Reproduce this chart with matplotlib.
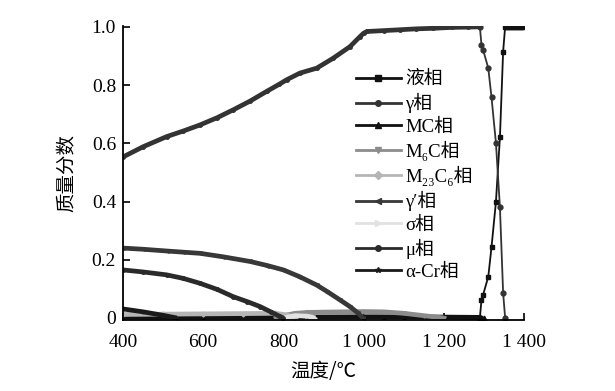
import matplotlib
matplotlib.use('Agg')
from matplotlib import pyplot as plt

plt.rcParams['font.family'] = ['Liberation Serif', 'Noto Sans CJK SC', 'DejaVu Serif']

# temperature (deg C) and mass fraction for each phase
t_liq = [1290, 1294, 1298, 1311, 1319, 1330, 1340, 1348, 1353,
         1358, 1363, 1368, 1373, 1378, 1383, 1388, 1393, 1398]
v_liq = [0.0, 0.062, 0.079, 0.142, 0.243, 0.398, 0.62, 0.915, 1.0,
         1.0, 1.0, 1.0, 1.0, 1.0, 1.0, 1.0, 1.0, 1.0]

t_gam = [400, 450, 509, 550, 592, 635, 675, 717, 758, 790, 808, 841, 883,
         924, 966, 990, 1000, 1008, 1050, 1091, 1130, 1174, 1220, 1260,
         1290, 1294, 1298, 1311, 1319, 1330, 1340, 1348, 1353]
v_gam = [0.553, 0.588, 0.623, 0.642, 0.663, 0.688, 0.715, 0.745, 0.778,
         0.803, 0.818, 0.841, 0.858, 0.892, 0.932, 0.965, 0.978, 0.984,
         0.987, 0.99, 0.993, 0.995, 0.998, 0.999, 1.0, 0.938, 0.921,
         0.858, 0.758, 0.602, 0.381, 0.086, 0.0]

t_mc = [400, 600, 800, 1000, 1050, 1100, 1200, 1290, 1300]
v_mc = [0.003, 0.003, 0.003, 0.004, 0.004, 0.004, 0.003, 0.002, 0.0]

t_m6c = [780, 800, 830, 860, 900, 950, 1000, 1050, 1100, 1150, 1200]
v_m6c = [0.0, 0.008, 0.016, 0.019, 0.020, 0.021, 0.022, 0.021, 0.016, 0.008, 0.0]

t_m23 = [400, 500, 600, 700, 780, 810, 830]
v_m23 = [0.012, 0.013, 0.014, 0.015, 0.016, 0.010, 0.0]

t_gp = [400, 450, 509, 550, 592, 650, 717, 760, 800, 840, 883, 910, 941,
        966, 985, 998]
v_gp = [0.240, 0.236, 0.230, 0.226, 0.222, 0.210, 0.194, 0.180, 0.165,
        0.142, 0.113, 0.090, 0.062, 0.039, 0.018, 0.0]

t_sig = [800, 830, 860, 880]
v_sig = [0.0, 0.008, 0.006, 0.0]

t_mu = [400, 450, 509, 550, 592, 635, 675, 710, 742, 770, 790, 800]
v_mu = [0.165, 0.158, 0.148, 0.136, 0.119, 0.098, 0.073, 0.056, 0.039,
        0.020, 0.006, 0.0]

t_acr = [400, 450, 500, 534]
v_acr = [0.031, 0.021, 0.009, 0.0]

labels = ['液相', 'γ相', 'MC相', 'M₆C相', 'M₂₃C₆相', 'γ′相', 'σ相', 'μ相', 'α-Cr相']

fig = plt.figure(figsize=(6.15, 3.91), dpi=100)
ax = fig.add_axes([0.2, 0.1816, 0.652, 0.752])

series = [
    (t_liq, v_liq, 's', '#111111'),
    (t_gam, v_gam, 'o', '#333333'),
    (t_mc, v_mc, '^', '#111111'),
    (t_m6c, v_m6c, 'v', '#8c8c8c'),
    (t_m23, v_m23, 'D', '#b5b5b5'),
    (t_gp, v_gp, '<', '#383838'),
    (t_sig, v_sig, '>', '#e2e2e2'),
    (t_mu, v_mu, 'o', '#2a2a2a'),
    (t_acr, v_acr, '*', '#1a1a1a'),
]
handles = []
for (t, v, m, c), lab in zip(series, labels):
    # dense solid part (below the solidus) drawn thick, melting part thin
    lo = [i for i, x in enumerate(t) if x <= 1290]
    hi = [i for i, x in enumerate(t) if x >= 1290]
    if lo:
        ax.plot([t[i] for i in lo], [v[i] for i in lo], color=c, lw=3.4,
                marker=m, ms=2.5, solid_capstyle='butt')
    if len(hi) > 1:
        ax.plot([t[i] for i in hi], [v[i] for i in hi], color=c,
                lw=1.3, marker=m, ms=3.5)
    h, = ax.plot([], [], color=c, lw=2.0, marker=m, ms=4, label=lab)
    handles.append(h)

# liquid at 1.0 above liquidus is a dense thick bar
ax.plot(t_liq[8:], v_liq[8:], color='#111111', lw=4.5, solid_capstyle='butt')

ax.set_xlim(400, 1400)
ax.set_ylim(-0.007, 1.003)
ax.set_xticks([400, 600, 800, 1000, 1200, 1400])
ax.set_xticklabels(['400', '600', '800', '1 000', '1 200', '1 400'])
ax.set_yticks([0, 0.2, 0.4, 0.6, 0.8, 1.0])
ax.set_yticklabels(['0', '0.2', '0.4', '0.6', '0.8', '1.0'])
ax.tick_params(direction='in', length=5, width=1.2, labelsize=14)
ax.tick_params(axis='x', pad=10)
ax.tick_params(axis='y', pad=5)
for s in ['top', 'right']:
    ax.spines[s].set_visible(False)
for s in ['left', 'bottom']:
    ax.spines[s].set_linewidth(1.3)

ax.set_xlabel('温度/℃', fontsize=14, family=['Noto Sans CJK SC'], labelpad=7)
ax.set_ylabel('质量分数', fontsize=14, family=['Noto Sans CJK SC'], labelpad=10)

leg = fig.legend(handles=handles, loc='upper left', bbox_to_anchor=(0.566, 0.838),
                 frameon=False, fontsize=13.5, handlelength=2.4,
                 labelspacing=0.27, handletextpad=0.25, borderaxespad=0)

fig.savefig('out.png', dpi=100)
